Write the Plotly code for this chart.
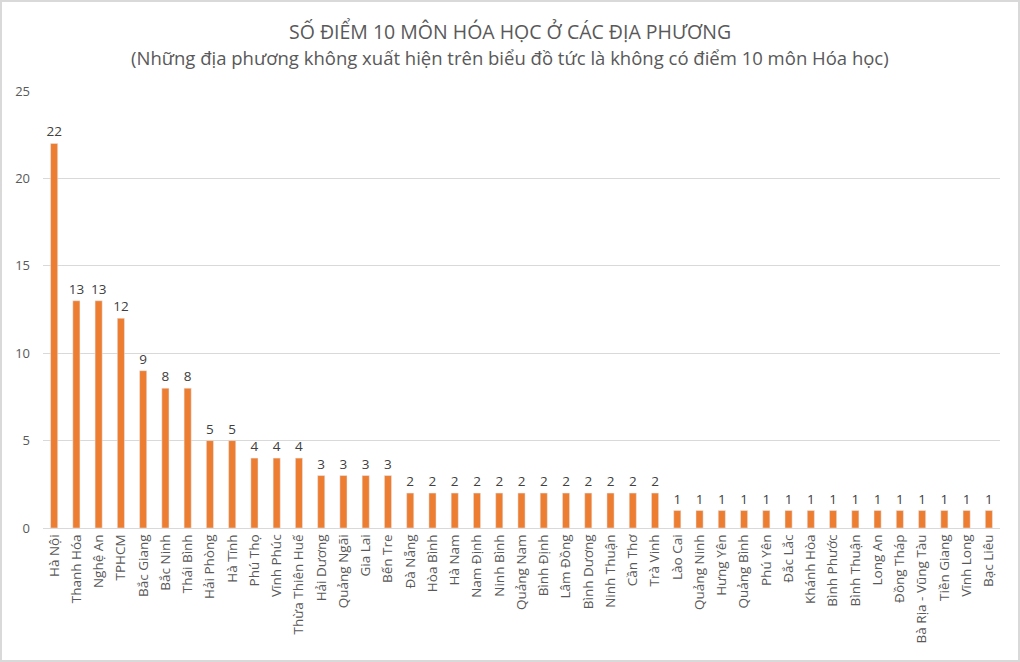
import plotly.graph_objects as go

provinces = [
    "Hà Nội", "Thanh Hóa", "Nghệ An", "TPHCM", "Bắc Giang", "Bắc Ninh", "Thái Bình",
    "Hải Phòng", "Hà Tĩnh", "Phú Thọ", "Vĩnh Phúc", "Thừa Thiên Huế", "Hải Dương",
    "Quảng Ngãi", "Gia Lai", "Bến Tre", "Đà Nẵng", "Hòa Bình", "Hà Nam", "Nam Định",
    "Ninh Bình", "Quảng Nam", "Bình Định", "Lâm Đồng", "Bình Dương", "Ninh Thuận",
    "Cần Thơ", "Trà Vinh", "Lào Cai", "Quảng Ninh", "Hưng Yên", "Quảng Bình",
    "Phú Yên", "Đắc Lắc", "Khánh Hòa", "Bình Phước", "Bình Thuận", "Long An",
    "Đồng Tháp", "Bà Rịa - Vũng Tàu", "Tiền Giang", "Vĩnh Long", "Bạc Liêu",
]
scores = [
    22, 13, 13, 12, 9, 8, 8, 5, 5, 4, 4, 4, 3, 3, 3, 3,
    2, 2, 2, 2, 2, 2, 2, 2, 2, 2, 2, 2,
    1, 1, 1, 1, 1, 1, 1, 1, 1, 1, 1, 1, 1, 1, 1,
]
y_ticks = [0, 5, 10, 15, 20, 25]

title = "SỐ ĐIỂM 10 MÔN HÓA HỌC Ở CÁC ĐỊA PHƯƠNG"
subtitle = "(Những địa phương không xuất hiện trên biểu đồ tức là không có điểm 10 môn Hóa học)"

FONT = "Open Sans"
GRAY = "#595959"

fig = go.Figure(go.Bar(
    x=provinces,
    y=scores,
    marker_color="#ed7d31",
    text=scores,
    textposition="outside",
    constraintext="none",
    textfont=dict(size=13.5, color="#404040", family=FONT),
    cliponaxis=False,
))

# plot area: 957 x 437 px, left at 43, bottom at 528
# titles are centred on the whole picture (x = 510 px)
title_x = (510 - 43) / 957
fig.update_layout(
    width=1020,
    height=662,
    plot_bgcolor="white",
    paper_bgcolor="white",
    bargap=0.68,
    showlegend=False,
    margin=dict(l=43, r=20, t=91, b=134),
    font=dict(family=FONT, color=GRAY),
    annotations=[
        dict(text=title, xref="paper", yref="paper", x=title_x, y=(528 - 31) / 437,
             xanchor="center", yanchor="middle", showarrow=False,
             font=dict(size=19.5, color=GRAY, family=FONT)),
        dict(text=subtitle, xref="paper", yref="paper", x=title_x, y=(528 - 58) / 437,
             xanchor="center", yanchor="middle", showarrow=False,
             font=dict(size=18.5, color=GRAY, family=FONT)),
    ],
    shapes=[dict(
        type="rect", xref="paper", yref="paper",
        x0=-42 / 957, x1=1 + 19 / 957, y0=-133 / 437, y1=1 + 90 / 437,
        line=dict(color="#d9d9d9", width=2), fillcolor="rgba(0,0,0,0)",
    )],
)

fig.update_xaxes(
    tickangle=-90,
    tickfont=dict(size=13.5, color=GRAY, family=FONT),
    showline=True,
    linecolor="#d9d9d9",
    ticks="",
)
fig.update_yaxes(
    range=[0, 25],
    tickvals=y_ticks,
    tickfont=dict(size=13, color=GRAY, family=FONT),
    gridcolor="#d9d9d9",
    zeroline=False,
    ticklabelstandoff=12,
)

fig.write_html("out.html", config={"displayModeBar": False},
               post_script="document.body.style.margin='0';")
